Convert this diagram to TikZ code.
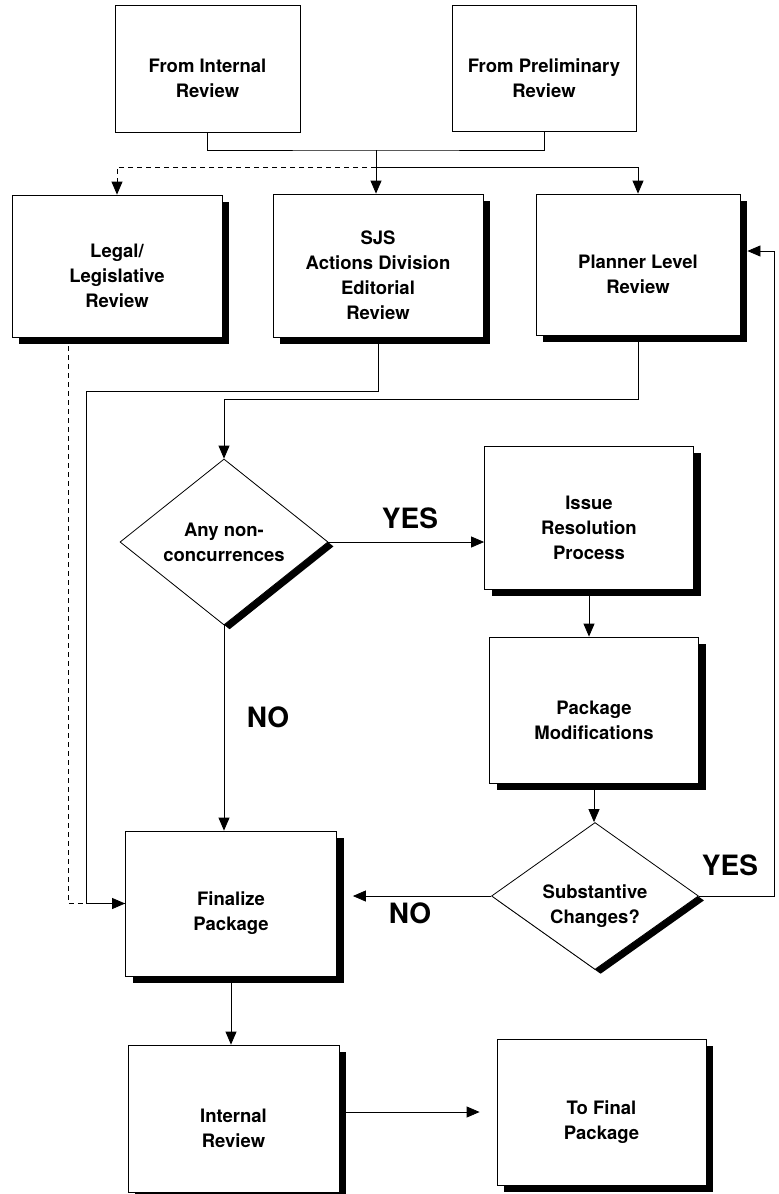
\documentclass[tikz,border=0pt]{standalone}
\usepackage{fontspec}
\setmainfont{TeX Gyre Heros}
\usetikzlibrary{arrows.meta,shapes.geometric,shadows}
\begin{document}
\begin{tikzpicture}[x=1pt,y=-1pt,
  every node/.style={inner sep=0pt},
  arr/.style={line width=0.8pt,-{Triangle[length=13pt,width=11pt]}},
  conn/.style={line width=0.8pt},
  plainbox/.style={draw,line width=0.8pt,fill=white,rectangle},
  box/.style={plainbox,general shadow={fill=black,shadow xshift=7pt,shadow yshift=-7pt}},
  dec/.style={draw,line width=0.8pt,fill=white,diamond,general shadow={fill=black,shadow xshift=5.6pt,shadow yshift=-4.4pt}},
  txt/.style={align=center,font=\fontsize{18.5}{25}\selectfont\bfseries},
  big/.style={font=\fontsize{28}{30}\selectfont\bfseries}
]
\fill[white] (0,0) rectangle (779,1194);
\useasboundingbox (0,0) rectangle (779,1194);

% boxes
\node[plainbox,minimum width=185pt,minimum height=127pt] (fi) at (207.5,68.5) {};
\node[txt] (fi-t) at ([yshift=-10pt]fi.center) {From Internal\\Review};
\node[plainbox,minimum width=184pt,minimum height=126pt] (fp) at (544,68) {};
\node[txt] (fp-t) at ([yshift=-10pt]fp.center) {From Preliminary\\Review};

\node[box,minimum width=210pt,minimum height=142pt] (legal) at (117,266) {};
\node[txt] (legal-t) at ([yshift=-10pt]legal.center) {Legal/\\Legislative\\Review};
\node[box,minimum width=210pt,minimum height=143pt] (sjs) at (378,265.5) {};
\node[txt] (sjs-t) at ([yshift=-10pt]sjs.center) {SJS\\Actions Division\\Editorial\\Review};
\node[box,minimum width=204pt,minimum height=141pt] (planner) at (638,264.5) {};
\node[txt] (planner-t) at ([yshift=-10pt]planner.center) {Planner Level\\Review};

\node[dec,minimum width=208pt,minimum height=166pt] (d1) at (224,542) {};
\node[txt] (d1-t) at (d1.center) {Any non-\\concurrences};
\node[box,minimum width=209pt,minimum height=143pt] (issue) at (589,517.5) {};
\node[txt] (issue-t) at ([yshift=-10pt]issue.center) {Issue\\Resolution\\Process};
\node[box,minimum width=209pt,minimum height=146pt] (pkgmod) at (594,710) {};
\node[txt] (pkgmod-t) at ([yshift=-10pt]pkgmod.center) {Package\\Modifications};
\node[dec,minimum width=207pt,minimum height=147pt] (d2) at (595,896) {};
\node[txt] (d2-t) at ([yshift=-10pt]d2.center) {Substantive\\Changes?};

\node[box,minimum width=211pt,minimum height=145pt] (fin) at (231,903.5) {};
\node[txt] (fin-t) at ([yshift=-10pt]fin.center) {Finalize\\Package};
\node[box,minimum width=211pt,minimum height=147pt] (ir) at (233.5,1118.5) {};
\node[txt] (ir-t) at ([yshift=-10pt]ir.center) {Internal\\Review};
\node[box,minimum width=209pt,minimum height=146pt] (tf) at (601.5,1112) {};
\node[txt] (tf-t) at ([yshift=-10pt]tf.center) {To Final\\Package};

% labels
\node[big] (yes1) at (410,518) {YES};
\node[big] (no1) at (268,717) {NO};
\node[big] (yes2) at (730,865) {YES};
\node[big] (no2) at (410,913) {NO};

% helper coordinates
\coordinate (j) at (376,150);
\coordinate (j2) at (376,167);
\coordinate (s1) at (86,391);
\coordinate (p1) at (0,399);
\coordinate (r) at (774,251);

% connectors
\draw[conn] (fi.south) |- (j) -| (fp.south);
\draw[arr] (j) -- (j |- sjs.north);
\draw[arr,dashed,dash pattern=on 5pt off 4pt] (j2) -| (legal.north);
\draw[arr] (j2) -| (planner.north);

\draw[conn,dash pattern=on 5pt off 4pt] ([xshift=-49pt]legal.south) |- (fin.west);
\draw[arr] (sjs.south) |- (s1) |- (fin.west);
\draw[arr] (planner.south) |- (p1 -| d1.north) -- (d1.north);

\draw[arr] (d1.east) -- (d1.east -| issue.west);
\draw[arr] (d1.south) -- (d1.south |- fin.north);
\draw[arr] (issue.south) -- (issue.south |- pkgmod.north);
\draw[arr] (pkgmod.south) -- (pkgmod.south |- d2.north);
\draw[arr,shorten >=16pt] (d2.west) -- (d2.west -| fin.east);
\draw[arr,shorten >=7pt] (d2.east) -| (r) -- (r -| planner.east);
\draw[arr] (fin.south) -- (fin.south |- ir.north);
\draw[arr,shorten >=17pt] (ir.east |- tf.west) -- (tf.west);
\end{tikzpicture}
\end{document}
